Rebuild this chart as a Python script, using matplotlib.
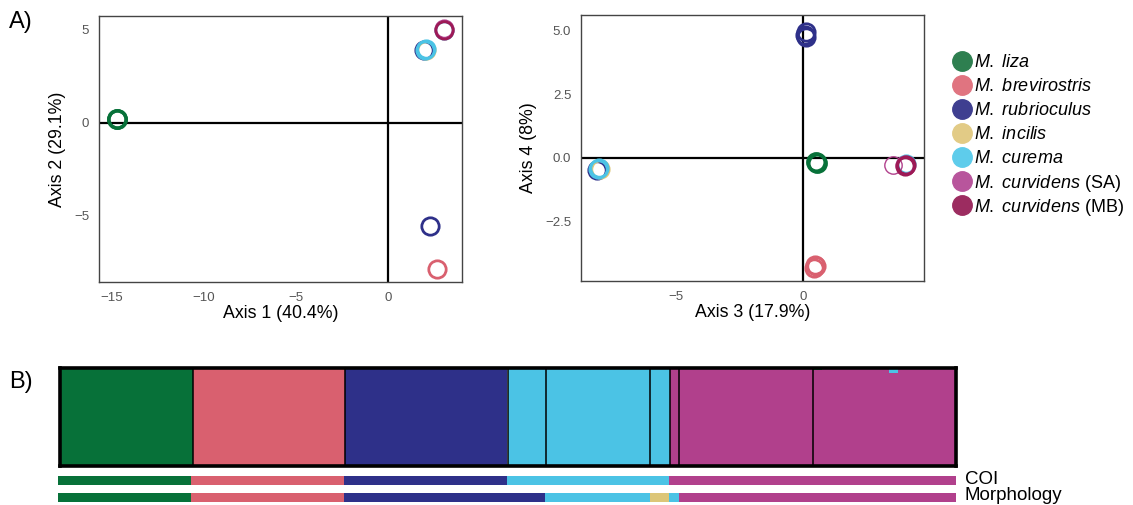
import matplotlib
matplotlib.use("Agg")
import matplotlib.pyplot as plt
from matplotlib.lines import Line2D

plt.rcParams['font.family'] = ['Liberation Sans', 'DejaVu Sans']
plt.rcParams['mathtext.fontset'] = 'custom'
plt.rcParams['mathtext.rm'] = 'Liberation Sans'
plt.rcParams['mathtext.it'] = 'Liberation Sans:italic'

# species, legend labels and colours
species = ['liza', 'brevirostris', 'rubrioculus', 'incilis', 'curema', 'curvidens SA', 'curvidens MB']
labels = [r'$\it{M.\ liza}$', r'$\it{M.\ brevirostris}$', r'$\it{M.\ rubrioculus}$', r'$\it{M.\ incilis}$',
          r'$\it{M.\ curema}$', r'$\it{M.\ curvidens}$ (SA)', r'$\it{M.\ curvidens}$ (MB)']
colors = ['#077139', '#D9606F', '#2E3089', '#DCC678', '#4BC3E5', '#B1408C', '#9D1A56']
legend_colors = ['#2E7F50', '#E07480', '#3F3F90', '#E2CB86', '#5ECCEB', '#B8559C', '#9C2C60']

# PCA scores (species index per point, in drawing order)
a1_sp = [0, 0, 1, 2, 2, 3, 4, 4, 4, 5, 6]
a1_x = [-14.75, -14.7, 2.65, 2.27, 1.96, 2.06, 2.02, 2.0, 3.05, 3.0, 3.03]
a1_y = [0.22, 0.2, -7.83, -5.52, 3.9, 3.9, 3.95, 3.94, 5.02, 5.03, 5.0]

a2_sp = [0, 0, 1, 1, 1, 2, 2, 2, 2, 3, 4, 4, 4, 5, 5, 6, 6]
a2_x = [0.52, 0.5, 0.45, 0.42, 0.48, 0.09, 0.05, 0.1, -8.12, -7.98, -8.06, -8.03, 4.02, 3.53, 4.0, 4.05, 3.98]
a2_y = [-0.18, -0.16, -4.2, -4.3, -4.25, 4.95, 4.8, 4.75, -0.48, -0.42, -0.44, -0.4, -0.24, -0.26, -0.28, -0.28, -0.3]

# STRUCTURE plot: clusters, populations, admixture slivers
cluster_colors = ['#077139', '#D9606F', '#2E3089', '#4BC3E5', '#B1408C']
pop_sizes = [14, 16, 17, 4, 11, 2, 1, 14, 15]
pop_cluster = [0, 1, 2, 3, 3, 3, 4, 4, 4]
admix_sample = [14, 15, 32, 33, 43, 75, 79, 80, 84, 85, 86, 87, 88, 89, 92, 93]
admix_cluster = [3, 3, 1, 3, 1, 3, 0, 3, 1, 3, 3, 3, 3, 3, 3, 3]
admix_value = [0.015, 0.015, 0.015, 0.015, 0.015, 0.015, 0.02, 0.015, 0.015, 0.015, 0.015,
               0.05, 0.015, 0.015, 0.015, 0.015]

# COI and morphology assignments (runs of samples, species index)
coi_sizes = [14, 16, 17, 17, 30]
coi_sp = [0, 1, 2, 4, 5]
morph_sizes = [14, 16, 21, 11, 2, 1, 29]
morph_sp = [0, 1, 2, 4, 3, 4, 5]

W, H = 1133, 505
fig = plt.figure(figsize=(W / 100, H / 100), dpi=100)


def px_axes(x0, y0, x1, y1):
    return fig.add_axes([x0 / W, 1 - y1 / H, (x1 - x0) / W, (y1 - y0) / H])


def pca_panel(ax, xs, ys, sp, xlabel, ylabel, thin=()):
    ax.axhline(0, color='black', lw=1.6, zorder=1)
    ax.axvline(0, color='black', lw=1.6, zorder=1)
    for j, (x, y, s) in enumerate(zip(xs, ys, sp)):
        mew = 2.5 if s == 0 else 2.0
        if j in thin:
            mew = 1.0
        ax.plot(x, y, 'o', ms=12.5, mfc='none', mec=colors[s], mew=mew, zorder=3)
    ax.set_xlabel(xlabel, fontsize=12.8, labelpad=1)
    ax.set_ylabel(ylabel, fontsize=12.8, labelpad=6)
    ax.tick_params(length=0, labelsize=9.5, labelcolor='#555555', pad=7)
    for sp_ in ax.spines.values():
        sp_.set_color('#444444')
        sp_.set_linewidth(1.0)


ax1 = px_axes(99, 16, 462, 282)
pca_panel(ax1, a1_x, a1_y, a1_sp, 'Axis 1 (40.4%)', 'Axis 2 (29.1%)')
ax1.set_xlim(-15.7, 4.0)
ax1.set_ylim(-8.55, 5.75)
ax1.set_xticks([-15, -10, -5, 0])
ax1.set_yticks([-5, 0, 5])

ax2 = px_axes(581, 15, 924, 281)
pca_panel(ax2, a2_x, a2_y, a2_sp, 'Axis 3 (17.9%)', 'Axis 4 (8%)', thin=(13,))
ax2.set_xlim(-8.73, 4.74)
ax2.set_ylim(-4.82, 5.6)
ax2.set_xticks([-5, 0])
ax2.set_yticks([-2.5, 0.0, 2.5, 5.0])
ax2.set_yticklabels(['\u22122.5', '0.0', '2.5', '5.0'])

# legend, drawn row by row so the spacing stays even
for i, (lab, c) in enumerate(zip(labels, legend_colors)):
    yc = 60.5 + 24 * i
    fig.add_artist(Line2D([962 / W], [1 - yc / H], marker='o', ls='none', ms=14, mfc=c, mec=c,
                          transform=fig.transFigure))
    fig.text(974 / W, 1 - yc / H, lab, fontsize=13, va='center_baseline', ha='left')

# STRUCTURE barplot
n = sum(pop_sizes)
dominant = []
for size, c in zip(pop_sizes, pop_cluster):
    dominant += [c] * size
q = [[0.0] * 5 for _ in range(n)]
for i in range(n):
    q[i][dominant[i]] = 1.0
for i, c, v in zip(admix_sample, admix_cluster, admix_value):
    q[i][c] += v
    q[i][dominant[i]] -= v

ax3 = px_axes(59.5, 368, 955.5, 466)
for i in range(n):
    order = [dominant[i]] + [k for k in range(5) if k != dominant[i]]
    bottom = 0.0
    for k in order:
        if q[i][k] > 0:
            ax3.bar(i, q[i][k], bottom=bottom, width=1.0, align='edge', color=cluster_colors[k], lw=0)
            bottom += q[i][k]
b = 0
for size in pop_sizes[:-1]:
    b += size
    ax3.axvline(b, color='black', lw=1.1)
ax3.set_xlim(0, n)
ax3.set_ylim(0, 1)
ax3.set_xticks([])
ax3.set_yticks([])
for s in ax3.spines.values():
    s.set_linewidth(2.6)
    s.set_color('black')


def assign_bar(y0, y1, sizes, sp):
    ax = px_axes(57.7, y0, 956, y1)
    left = 0
    for size, s in zip(sizes, sp):
        ax.barh(0, size, left=left, height=1, color=colors[s], lw=0)
        left += size
    ax.set_xlim(0, n)
    ax.set_ylim(-0.5, 0.5)
    ax.axis('off')


assign_bar(476, 485, coi_sizes, coi_sp)
assign_bar(493, 502, morph_sizes, morph_sp)
fig.text(965 / W, 1 - 480 / H, 'COI', fontsize=13.5, va='center', ha='left')
fig.text(965 / W, 1 - 496 / H, 'Morphology', fontsize=13.5, va='center', ha='left')

fig.text(9 / W, 1 - 22 / H, 'A)', fontsize=17, va='center', ha='left')
fig.text(9 / W, 1 - 382 / H, 'B)', fontsize=17, va='center', ha='left')

fig.savefig('out.png', dpi=100)
